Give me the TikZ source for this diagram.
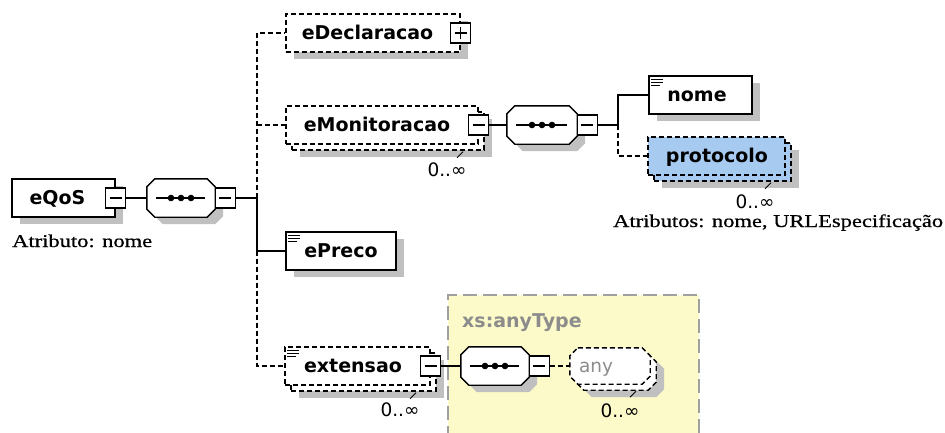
\documentclass[tikz,border=0pt]{standalone}
\usepackage{fontspec}
\usetikzlibrary{calc,shadows}

\newfontfamily\elemfont{DejaVu Sans}
\newfontfamily\notefont{Liberation Serif}[FakeStretch=1.25,FakeBold=0.6]

\definecolor{shadowgray}{RGB}{192,192,192}
\definecolor{protoblue}{RGB}{166,202,240}
\definecolor{typeyellow}{RGB}{252,250,200}
\definecolor{typeborder}{RGB}{160,160,160}
\definecolor{wildgray}{RGB}{140,140,140}

% octagon outline around a frame node: node, chamfer, dx, dy
\newcommand\octpath[4]{($(#1.north west)+(#2+#3,#4)$) -- ($(#1.north east)+(-#2+#3,#4)$) -- ($(#1.north east)+(#3,#2+#4)$) -- ($(#1.south east)+(#3,-#2+#4)$) -- ($(#1.south east)+(-#2+#3,#4)$) -- ($(#1.south west)+(#2+#3,#4)$) -- ($(#1.south west)+(#3,-#2+#4)$) -- ($(#1.north west)+(#3,#2+#4)$) -- cycle}

% sequence compositor symbol
\newcommand\seqsymbol[1]{%
  \fill[shadowgray] \octpath{#1}{8}{8}{7};
  \filldraw[wire, fill=white] \octpath{#1}{8}{0}{0};
  \draw[wire] ($(#1.west)+(9,0)$) -- ($(#1.east)+(-10,0)$);
  \foreach \d in {-10,0,10} \fill ($(#1.center)+(\d,0)$) circle (3.3pt);
}

% simple-content marker in the upper left corner of an element
\newcommand\contenticon[1]{%
  \draw[line width=1pt] ($(#1.north west)+(3,4)$) -- ++(12,0);
  \draw[line width=1pt] ($(#1.north west)+(3,7)$) -- ++(12,0);
  \draw[line width=1pt] ($(#1.north west)+(3,10)$) -- ++(9,0);
}

% small pointer between a repeated element and its occurrence label
\newcommand\multtick[2]{%
  \draw[line width=1pt] ($(#1.south -| #2)+(10,7)$) -- ++(6,-6);
}

\tikzset{
  wire/.style={line width=1.4pt},
  optline/.style={dash pattern=on 5pt off 3pt},
  shadowed/.style={general shadow={fill=shadowgray, shadow xshift=8pt, shadow yshift=-7pt}},
  elem/.style={rectangle, draw, line width=1.4pt, fill=white, minimum height=38pt, inner sep=0pt},
  seqframe/.style={rectangle, inner sep=0pt, minimum width=68pt, minimum height=38pt},
  btn/.style={rectangle, draw, line width=1.4pt, fill=white, minimum width=20pt, minimum height=20pt, inner sep=0pt},
  btnminus/.style={btn, path picture={\draw[line width=1.3pt]
      ([xshift=4pt]path picture bounding box.west) -- ([xshift=-4pt]path picture bounding box.east);}},
  btnplus/.style={btn, path picture={\draw[line width=1.3pt]
      ([xshift=4pt]path picture bounding box.west) -- ([xshift=-4pt]path picture bounding box.east)
      ([yshift=-4pt]path picture bounding box.north) -- ([yshift=4pt]path picture bounding box.south);}},
  elemname/.style={font=\elemfont\bfseries\fontsize{19}{22}\selectfont, inner sep=0pt, text height=13pt, text depth=0pt},
  mult/.style={font=\elemfont\fontsize{18.5}{20}\selectfont, inner sep=0pt, text height=13pt, text depth=0pt},
  attrnote/.style={font=\notefont\fontsize{18}{20}\selectfont, inner sep=0pt, anchor=base west},
  typetitle/.style={font=\elemfont\bfseries\fontsize{19}{22}\selectfont, text=wildgray, inner sep=0pt, anchor=base west},
  wildtext/.style={font=\elemfont\fontsize{18.5}{20}\selectfont, text=wildgray, inner sep=0pt, text height=13pt, text depth=0pt},
}

\begin{document}
\begin{tikzpicture}[x=1pt, y=-1pt]
\useasboundingbox (0,0) rectangle (945,432);
\fill[white] (0,0) rectangle (945,432);

% complex type area of "extensao"
\fill[typeyellow] (448,295) rectangle (699,440);
\draw[line width=1.5pt, typeborder, dash pattern=on 14pt off 6pt] (448,440) -- (448,295) -- (699,295) -- (699,440);
\node[typetitle] (anytype) at (462,327) {xs:anyType};

% root element
\node[elem, shadowed, minimum width=103pt] (eqos) at (63.5,198) {};
\node[elemname] (eqos-t) at (57.5,198) {eQoS};
\node[btnminus] (eqos-b) at (eqos.east) {};
\node[attrnote] (eqos-a) at (12,247) {Atributo: nome};

% first sequence
\node[seqframe] (s1) at (181,198) {};
\seqsymbol{s1}
\node[btnminus] (s1-b) at ($(s1.east)+(10,0)$) {};
\coordinate (j1) at (257,198);

% eDeclaracao
\node[elem, optline, shadowed, minimum width=174pt] (edecl) at (373,33) {};
\node[elemname] (edecl-t) at (367.5,33) {eDeclaracao};
\node[btnplus] (edecl-b) at (edecl.east) {};

% eMonitoracao (repeated)
\node[elem, optline, shadowed, minimum width=192pt] (emon-back) at (388,131) {};
\node[elem, optline, minimum width=192pt] (emon) at (382,125) {};
\node[elemname] (emon-t) at (377,125) {eMonitoracao};
\node[btnminus] (emon-b) at (emon.east) {};
\node[mult] (emon-m) at (447,170) {0..∞};
\multtick{emon-back}{emon-m}

% second sequence
\node[seqframe, minimum width=70pt] (s2) at (542,125) {};
\seqsymbol{s2}
\node[btnminus] (s2-b) at ($(s2.east)+(10,0)$) {};
\coordinate (j2) at (618,125);

% nome
\node[elem, shadowed, minimum width=103pt] (nome) at (700.5,95) {};
\contenticon{nome}
\node[elemname] (nome-t) at (697,95) {nome};

% protocolo (repeated)
\node[elem, optline, shadowed, fill=protoblue, minimum width=137pt] (proto-back) at (722.5,162) {};
\node[elem, optline, fill=protoblue, minimum width=137pt] (proto) at (716.5,156) {};
\node[elemname] (proto-t) at (717,156) {protocolo};
\node[mult] (proto-m) at (755,202) {0..∞};
\multtick{proto-back}{proto-m}
\node[attrnote] (proto-a) at (613,227) {Atributos: nome, URLEspecificação};

% ePreco
\node[elem, shadowed, minimum width=110pt] (epreco) at (341,251) {};
\contenticon{epreco}
\node[elemname] (epreco-t) at (341,251) {ePreco};

% extensao (repeated)
\node[elem, optline, shadowed, minimum width=145pt] (ext-back) at (363.5,372) {};
\node[elem, optline, minimum width=145pt] (ext) at (357.5,366) {};
\contenticon{ext}
\node[elemname] (ext-t) at (353,366) {extensao};
\node[btnminus] (ext-b) at (ext.east) {};
\node[mult] (ext-m) at (400,410) {0..∞};
\multtick{ext-back}{ext-m}

% third sequence
\node[seqframe] (s3) at (495,366) {};
\seqsymbol{s3}
\node[btnminus] (s3-b) at ($(s3.east)+(10,0)$) {};

% any wildcard (repeated)
\node[seqframe, minimum width=80pt, minimum height=36pt] (any-back) at (616,372) {};
\node[seqframe, minimum width=80pt, minimum height=36pt] (any) at (610,366) {};
\fill[shadowgray] \octpath{any-back}{8}{8}{7};
\filldraw[wire, optline, fill=white] \octpath{any-back}{8}{0}{0};
\filldraw[wire, optline, fill=white] \octpath{any}{8}{0}{0};
\node[wildtext] (any-t) at (596,366) {any};
\node[mult] (any-m) at (620,411) {0..∞};
\multtick{any-back}{any-m}

% connectors
\draw[wire] (eqos-b.east) -- (s1.west);
\draw[wire] (s1-b.east) -- (j1);
\draw[wire, optline] (j1) -- (j1 |- edecl.west) -- (edecl.west);
\draw[wire, optline] (j1 |- emon.west) -- (emon.west);
\draw[wire] (j1) -- (j1 |- epreco.west) -- (epreco.west);
\draw[wire, optline] (j1 |- epreco.west) -- (j1 |- ext.west) -- (ext.west);
\draw[wire] (emon-b.east) -- (s2.west);
\draw[wire] (s2-b.east) -- (j2);
\draw[wire] (j2) -- (j2 |- nome.west) -- (nome.west);
\draw[wire, optline] (j2) -- (j2 |- proto.west) -- (proto.west);
\draw[wire] (ext-b.east) -- (s3.west);
\draw[wire, optline] (s3-b.east) -- (any.west);
\end{tikzpicture}
\end{document}
